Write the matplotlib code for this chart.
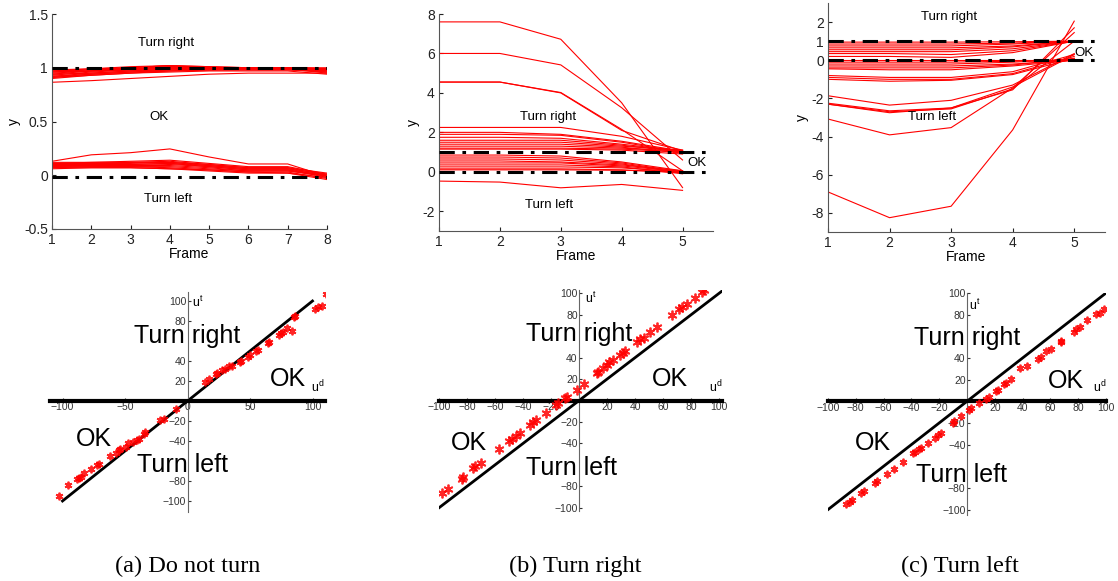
import numpy as np
import matplotlib
matplotlib.use("Agg")
import matplotlib.pyplot as plt
from matplotlib.ticker import FormatStrFormatter

# .----------------------------------------------------------------------------.
# Data.

# (a) Do not turn: 8 frames, trajectories of y
framesA = [1, 2, 3, 4, 5, 6, 7, 8]
linesA = [
    [0.865, 0.88, 0.90, 0.92, 0.94, 0.95, 0.95, 0.95],
    [0.90, 0.93, 0.95, 0.97, 0.98, 0.98, 0.98, 0.96],
    [0.91, 0.94, 0.96, 0.98, 0.98, 0.99, 0.99, 0.95],
    [0.92, 0.95, 0.97, 0.99, 0.99, 0.99, 0.99, 0.97],
    [0.93, 0.96, 0.98, 1.00, 1.00, 0.99, 0.99, 0.98],
    [0.94, 0.97, 0.99, 1.01, 1.00, 1.00, 1.00, 0.98],
    [0.95, 0.97, 0.99, 1.01, 1.00, 1.00, 1.00, 0.99],
    [0.96, 0.98, 1.00, 1.02, 1.00, 1.00, 1.00, 0.99],
    [0.97, 0.99, 1.00, 1.02, 1.01, 1.00, 1.00, 1.00],
    [0.98, 0.99, 1.01, 1.02, 1.01, 1.00, 1.00, 0.99],
    [0.92, 0.94, 0.96, 0.97, 0.98, 0.98, 0.98, 0.97],
    [0.94, 0.95, 0.97, 0.98, 0.99, 0.99, 0.99, 0.96],
    [0.96, 0.97, 0.98, 0.99, 1.00, 0.99, 0.99, 0.98],
    [0.91, 0.93, 0.95, 0.96, 0.97, 0.97, 0.97, 0.94],
    [0.97, 0.98, 0.99, 1.00, 1.00, 1.00, 1.00, 0.97],
    [0.13, 0.19, 0.21, 0.245, 0.17, 0.105, 0.105, -0.01],
    [0.12, 0.12, 0.13, 0.14, 0.11, 0.08, 0.08, 0.01],
    [0.11, 0.11, 0.12, 0.13, 0.10, 0.07, 0.07, 0.00],
    [0.10, 0.11, 0.11, 0.12, 0.09, 0.06, 0.06, 0.01],
    [0.10, 0.10, 0.10, 0.11, 0.09, 0.06, 0.06, -0.01],
    [0.09, 0.10, 0.10, 0.11, 0.08, 0.05, 0.05, 0.00],
    [0.09, 0.09, 0.09, 0.10, 0.08, 0.05, 0.05, -0.02],
    [0.08, 0.09, 0.09, 0.09, 0.07, 0.04, 0.04, 0.00],
    [0.08, 0.08, 0.08, 0.08, 0.06, 0.04, 0.04, -0.01],
    [0.07, 0.08, 0.08, 0.07, 0.05, 0.03, 0.03, -0.03],
    [0.07, 0.07, 0.07, 0.06, 0.04, 0.02, 0.02, -0.02],
    [0.06, 0.07, 0.07, 0.06, 0.05, 0.03, 0.02, -0.04],
    [0.11, 0.12, 0.12, 0.12, 0.10, 0.07, 0.07, 0.02],
]
thresholdsA = [1.0, -0.02]

# (b) Turn right: 5 frames
framesB = [1, 2, 3, 4, 5]
linesB = [
    [7.6, 7.6, 6.72, 3.5, -0.8],
    [6.0, 6.0, 5.42, 3.25, 0.6],
    [4.55, 4.55, 4.02, 2.15, 0.05],
    [4.55, 4.55, 4.0, 2.1, 1.05],
    [2.25, 2.25, 2.25, 1.8, 1.1],
    [2.0, 2.0, 1.9, 1.55, 1.05],
    [1.9, 1.9, 1.85, 1.5, 1.0],
    [1.75, 1.75, 1.7, 1.4, 1.05],
    [1.6, 1.6, 1.6, 1.35, 1.0],
    [1.5, 1.5, 1.5, 1.3, 1.1],
    [1.4, 1.4, 1.4, 1.25, 0.95],
    [1.3, 1.3, 1.3, 1.2, 1.05],
    [1.2, 1.2, 1.2, 1.15, 1.0],
    [1.15, 1.15, 1.15, 1.1, 0.9],
    [0.85, 0.85, 0.8, 0.5, 0.05],
    [0.75, 0.75, 0.7, 0.45, 0.0],
    [0.65, 0.65, 0.6, 0.4, -0.05],
    [0.55, 0.55, 0.5, 0.35, 0.05],
    [0.45, 0.45, 0.45, 0.3, 0.0],
    [0.35, 0.35, 0.35, 0.25, -0.1],
    [0.25, 0.25, 0.25, 0.2, 0.0],
    [0.15, 0.15, 0.15, 0.1, -0.05],
    [0.1, 0.1, 0.1, 0.08, 0.0],
    [-0.47, -0.52, -0.81, -0.64, -0.94],
]
thresholdsB = [1.0, 0.0]

# (c) Turn left: 5 frames
framesC = [1, 2, 3, 4, 5]
linesC = [
    [0.95, 0.95, 0.95, 0.97, 1.0],
    [0.85, 0.85, 0.85, 0.9, 1.0],
    [0.75, 0.75, 0.75, 0.85, 1.0],
    [0.65, 0.65, 0.65, 0.75, 1.0],
    [0.55, 0.55, 0.55, 0.7, 1.0],
    [0.45, 0.45, 0.45, 0.6, 1.0],
    [0.35, 0.35, 0.3, 0.5, 1.0],
    [0.2, 0.2, 0.15, 0.4, 1.0],
    [0.0, 0.0, 0.0, 0.0, 0.0],
    [-0.1, -0.1, -0.1, -0.05, 0.0],
    [-0.2, -0.2, -0.2, -0.1, 0.05],
    [-0.3, -0.3, -0.3, -0.2, 0.0],
    [-0.4, -0.4, -0.4, -0.25, 0.1],
    [-0.45, -0.5, -0.5, -0.3, 0.0],
    [-0.8, -0.9, -0.9, -0.6, 0.3],
    [-0.9, -1.0, -1.0, -0.7, 0.2],
    [-1.0, -1.1, -1.05, -0.75, 0.1],
    [-1.86, -2.35, -2.1, -1.3, 0.35],
    [-2.25, -2.65, -2.5, -1.4, 0.3],
    [-2.3, -2.7, -2.55, -1.5, 1.0],
    [-2.3, -2.75, -2.5, -1.55, 1.7],
    [-3.08, -3.91, -3.53, -1.45, 1.45],
    [-6.9, -8.25, -7.65, -3.65, 2.05],
]
thresholdsC = [1.0, 0.0]

# Bottom row: (u^d, u^t) pairs
udA = [-102.5, -95.8, -88.6, -86.7, -85.4, -82.7, -77.4, -72.6, -71.2, -61.8,
       -57.3, -55.2, -53.8, -49.0, -47.7, -43.6, -40.4, -39.1, -35.1, -33.7,
       -21.7, -19.0, -9.1, 13.7, 17.1, 22.5, 23.8, 27.8, 29.7, 33.2, 35.9,
       42.0, 43.1, 48.5, 50.1, 54.6, 56.0, 64.0, 65.3, 72.8, 74.7, 76.0,
       79.5, 83.3, 85.4, 85.9, 102.0, 104.1, 107.4, 110.8]
utA = [-95.0, -84.0, -78.4, -76.7, -75.7, -72.4, -68.4, -64.1, -63.1, -54.8,
       -51.8, -49.2, -47.5, -45.8, -41.9, -40.9, -39.2, -37.5, -32.6, -30.9,
       -19.3, -17.6, -7.6, 18.9, 22.3, 26.6, 27.9, 30.6, 32.2, 34.6, 35.5,
       38.9, 40.5, 44.5, 46.5, 50.5, 51.2, 57.8, 59.5, 66.4, 67.8, 68.8,
       72.8, 69.8, 83.7, 84.7, 92.0, 93.7, 95.3, 107.0]

udB = [-97.6, -93.3, -83.8, -82.6, -75.5, -74.3, -70.2, -56.9, -49.8, -48.1,
       -45.0, -42.1, -35.0, -32.6, -30.7, -23.6, -16.4, -14.8, -10.0, -8.8,
       -1.7, 3.6, 12.6, 13.8, 17.4, 19.8, 21.0, 24.5, 29.3, 31.2, 32.9, 41.2,
       43.6, 46.0, 50.7, 55.5, 66.2, 71.0, 73.3, 76.9, 82.9, 87.6, 89.3]
utB = [-86.2, -82.2, -73.2, -71.6, -63.0, -61.4, -58.3, -45.0, -37.5, -35.7,
       -33.5, -30.4, -22.6, -20.2, -18.0, -11.2, -4.0, -2.5, 2.2, 3.7, 9.9,
       15.2, 25.4, 26.4, 30.0, 33.2, 35.7, 37.8, 42.5, 44.0, 46.2, 54.3, 57.0,
       58.6, 64.2, 68.8, 79.7, 85.3, 87.4, 89.9, 95.2, 100.8, 102.6]

udC = [-86.9, -84.5, -83.0, -76.5, -74.1, -66.4, -65.0, -57.3, -52.5, -46.4,
       -38.7, -37.3, -34.4, -33.2, -28.4, -22.9, -21.2, -18.8, -10.3, -9.1,
       -4.3, 1.7, 2.9, 8.4, 13.7, 16.1, 20.9, 22.1, 26.5, 28.2, 31.8, 37.8,
       43.3, 51.0, 53.4, 57.0, 60.6, 67.4, 67.9, 77.0, 78.7, 81.1, 86.6, 93.1,
       95.5, 98.7]
utC = [-94.9, -92.8, -91.3, -85.1, -83.0, -75.0, -73.5, -66.8, -62.2, -56.0,
       -47.8, -46.9, -43.8, -42.9, -38.3, -33.7, -31.5, -29.1, -20.2, -18.4,
       -13.2, -8.0, -6.4, -1.8, 2.1, 4.3, 9.2, 10.4, 15.9, 16.8, 20.5, 31.2,
       32.2, 38.9, 41.0, 46.6, 48.1, 54.8, 55.7, 64.3, 66.5, 68.6, 74.7, 80.2,
       81.8, 84.8]

captions = ["(a) Do not turn", "(b) Turn right", "(c) Turn left"]

# .----------------------------------------------------------------------------.

W, H = 1118.0, 581.0
RED = (1, 0, 0)
AXGRAY = "#555555"
ASTERISK = (6, 2, 0)   # six-stroke asterisk, like MATLAB's '*'


def px_rect(left, top, right, bottom):
    """Convert a pixel box (from the top-left corner) to figure fractions."""
    return [left / W, 1 - bottom / H, (right - left) / W, (bottom - top) / H]


def frame_plot(ax, frames, lines, thresholds, xlim, ylim, yticks, labels):
    for y in lines:
        ax.plot(frames, y, color=RED, lw=0.8, zorder=2)
    for t in thresholds:
        ax.plot([xlim[0], labels["dash_end"]], [t, t], color="black", lw=2.2,
                dashes=(5, 2.5, 1.2, 2.5), zorder=3)
    ax.set_xlim(xlim)
    ax.set_ylim(ylim)
    ax.set_xticks(frames)
    ax.set_yticks(yticks)
    ax.yaxis.set_major_formatter(FormatStrFormatter("%g"))
    for side in ["top", "right"]:
        ax.spines[side].set_visible(False)
    for side in ["left", "bottom"]:
        ax.spines[side].set_color(AXGRAY)
    ax.tick_params(direction="in", length=3, labelsize=10, colors="#222222",
                   pad=3)
    ax.set_xlabel("Frame", fontsize=10, labelpad=0)
    ax.set_ylabel("y", fontsize=10, labelpad=2)
    for txt, (x, y) in labels["texts"]:
        ax.text(x, y, txt, fontsize=9.5, ha="center", va="center", zorder=4)


def decision_plot(ax, ud, ut, xlim, ylim, xticks, diag, texts, ut_pos, ud_pos, ms):
    ax.plot(diag, diag, color="black", lw=2, zorder=2)
    ax.plot(ud, ut, linestyle="none", marker=ASTERISK, color=RED, ms=ms,
            mew=1.3, alpha=0.85, zorder=3)
    ax.set_xlim(xlim)
    ax.set_ylim(ylim)
    ax.spines["left"].set_position("zero")
    ax.spines["bottom"].set_position("zero")
    ax.spines["left"].set_color("#666666")
    ax.spines["bottom"].set_linewidth(3)
    ax.spines["bottom"].set_color("black")
    ax.spines["top"].set_visible(False)
    ax.spines["right"].set_visible(False)
    ax.set_xticks(xticks)
    ax.set_yticks([-100, -80, -40, -20, 20, 40, 80, 100])
    ax.tick_params(direction="in", length=2, labelsize=7.5, colors="#333333",
                   pad=1)
    ax.patch.set_visible(False)
    for txt, (x, y) in texts:
        ax.text(x, y, txt, fontsize=18, ha="center", va="center", zorder=4)
    ax.text(ut_pos[0], ut_pos[1], r"u$^{\mathregular{t}}$", fontsize=9,
            ha="left", va="center")
    ax.text(ud_pos[0], ud_pos[1], r"u$^{\mathregular{d}}$", fontsize=9,
            ha="left", va="center")


def main():
    plt.rcParams["font.family"] = ["Liberation Sans", "DejaVu Sans"]
    fig = plt.figure(figsize=(W / 100, H / 100), dpi=100)

    # ----------------------------- TOP ROW ---------------------------------#
    axA = fig.add_axes(px_rect(52, 14, 327, 229))
    frame_plot(axA, framesA, linesA, thresholdsA, (1, 8), (-0.5, 1.5),
               [-0.5, 0, 0.5, 1, 1.5],
               {"dash_end": 8, "texts": [("Turn right", (3.9, 1.23)),
                                         ("OK", (3.72, 0.54)),
                                         ("Turn left", (3.96, -0.22))]})

    axB = fig.add_axes(px_rect(439, 14, 713, 231))
    frame_plot(axB, framesB, linesB, thresholdsB, (1, 5.5), (-3, 8),
               [-2, 0, 2, 4, 6, 8],
               {"dash_end": 5.4, "texts": [("Turn right", (2.79, 2.78)),
                                           ("OK", (5.24, 0.45)),
                                           ("Turn left", (2.8, -1.7))]})

    axC = fig.add_axes(px_rect(828, 3, 1105, 232))
    frame_plot(axC, framesC, linesC, thresholdsC, (1, 5.5), (-9, 3),
               [-8, -6, -4, -2, 0, 1, 2],
               {"dash_end": 5.4, "texts": [("Turn right", (2.96, 2.26)),
                                           ("OK", (5.15, 0.4)),
                                           ("Turn left", (2.69, -2.99))]})

    # ---------------------------- BOTTOM ROW -------------------------------#
    ticks20 = [-100, -80, -60, -40, -20, 20, 40, 60, 80, 100]

    axD = fig.add_axes(px_rect(50, 292, 325, 512))
    decision_plot(axD, udA, utA, (-110, 110), (-111, 109),
                  [-100, -50, 0, 50, 100], [-100, 100],
                  [("Turn right", (0, 64.5)), ("OK", (80, 22)),
                   ("OK", (-74.7, -37.5)), ("Turn left", (-4.3, -64))],
                  (4, 98.7), (99, 14), 5.5)

    axE = fig.add_axes(px_rect(439, 290, 722, 511))
    decision_plot(axE, udB, utB, (-100, 102), (-103, 103), ticks20,
                  [-100, 103],
                  [("Turn right", (0.2, 61.7)), ("OK", (65, 19.8)),
                   ("OK", (-78.3, -39.7)), ("Turn left", (-5.2, -63))],
                  (4, 95), (93, 13), 7)

    axF = fig.add_axes(px_rect(828, 293, 1106, 515))
    decision_plot(axF, udC, utC, (-100, 100), (-105, 100), ticks20,
                  [-100, 100],
                  [("Turn right", (0, 58.8)), ("OK", (71.5, 19)),
                   ("OK", (-68, -38.6)), ("Turn left", (-4.3, -68.3))],
                  (1.5, 89), (91, 13), 5.5)

    # ------------------------------ CAPTIONS -------------------------------#
    for txt, cx in zip(captions, [188, 575, 960]):
        fig.text(cx / W, 1 - 566 / H, txt, fontsize=17.5, ha="center",
                 va="center", family=["Liberation Serif", "DejaVu Serif"])

    fig.savefig("out.png", dpi=100)


# .----------------------------------------------------------------------------.

if __name__ == '__main__':
    main()
